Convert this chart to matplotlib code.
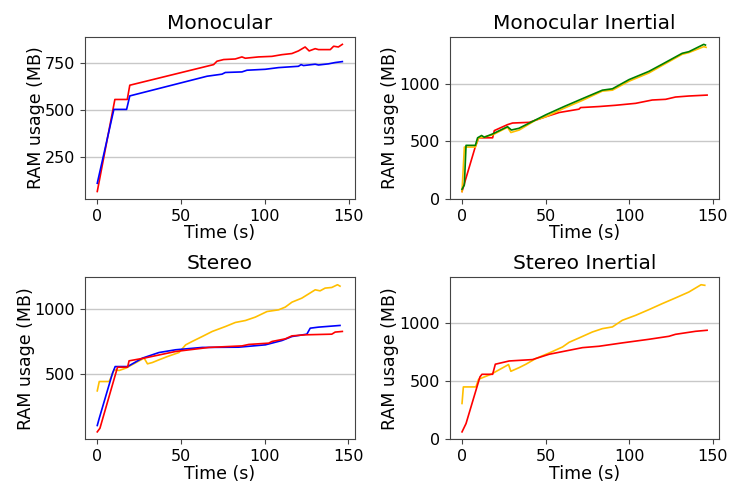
import matplotlib
matplotlib.use('Agg')
import matplotlib.pyplot as plt

# Monocular
mono_red_t = [0, 10.5, 17.9, 19.4, 69.4, 71.4, 75.4, 82.3, 86.3, 88.3, 96.2, 104.2, 110.1, 116.1,
              120, 124, 126.4, 130, 132, 139, 141, 143.8, 146.2]
mono_red_v = [64, 555, 555, 631, 741, 759, 768, 771, 782, 775, 782, 785, 794, 800,
              814, 835, 814, 826, 821, 821, 839, 835, 849]
mono_blue_t = [0, 9.9, 17.5, 19.4, 65.5, 74.4, 76.4, 86.3, 89.3, 100.2, 108.1, 120, 121.6, 123,
               130, 132, 137.9, 141.9, 146.2]
mono_blue_v = [108, 502, 502, 574, 679, 690, 699, 702, 711, 716, 725, 732, 741, 736,
               743, 739, 745, 752, 757]

# Monocular Inertial
mi_green_t = [0, 1.4, 2.4, 8, 9.3, 11.7, 13.3, 18.3, 27.2, 29.5, 34, 50.1, 61, 72, 83.9, 89.9,
              99.8, 111.7, 119.7, 131.6, 135.6, 144.5, 145.5]
mi_green_v = [83, 121, 466, 466, 532, 552, 537, 566, 629, 600, 615, 733, 805, 874, 948, 960,
              1040, 1112, 1175, 1270, 1284, 1348, 1342]
mi_yellow_t = [0, 1.4, 8, 9.9, 12.3, 18.3, 27.2, 29.2, 34.2, 44.1, 50.1, 61, 72, 83.9, 89.9,
               99.8, 111.7, 119.7, 131.6, 135.6, 144.5, 145.9]
mi_yellow_v = [63, 451, 451, 532, 537, 557, 624, 578, 600, 687, 716, 790, 859, 940, 948,
               1026, 1098, 1164, 1261, 1276, 1328, 1322]
mi_red_t = [0, 8, 9.9, 18.3, 19.3, 27.2, 30.2, 40.2, 50.1, 58.1, 69.9, 70.9, 81.9, 91.8, 103.8,
            113.7, 121.7, 127.6, 135.6, 146.5]
mi_red_v = [63, 457, 532, 532, 595, 647, 661, 667, 716, 753, 782, 796, 805, 816, 833,
            862, 868, 888, 897, 905]

# Stereo
st_yellow_t = [0, 1.2, 7.1, 10.1, 13.1, 17.1, 28, 30, 32.9, 36.9, 41.9, 48.8, 52.8, 56.7, 62.7,
               68.7, 76.6, 82.5, 88.5, 94.4, 101.4, 108.3, 112.3, 116.3, 122.2, 130.2, 133.1,
               136.1, 140.1, 143.5, 145]
st_yellow_v = [369, 441, 441, 531, 526, 544, 621, 577, 587, 608, 633, 664, 723, 749, 787,
               826, 864, 895, 910, 936, 979, 992, 1013, 1051, 1082, 1146, 1138,
               1159, 1164, 1185, 1174]
st_blue_t = [0, 1.2, 9.1, 10.7, 18.1, 27, 36.9, 46.8, 62.7, 84.5, 100.4, 110.3, 116.3, 125.2,
             127.2, 132.1, 145]
st_blue_v = [103, 159, 505, 556, 556, 621, 664, 685, 703, 705, 723, 756, 787, 805,
             851, 859, 872]
st_red_t = [0, 1.6, 12.1, 18.1, 19, 28, 46.8, 66.7, 86.5, 90.5, 102.4, 104.4, 112.3, 116.3,
            124.2, 140.1, 142.1, 146.4]
st_red_v = [54, 82, 551, 551, 600, 621, 672, 703, 715, 726, 736, 749, 769, 792,
            800, 805, 821, 826]

# Stereo Inertial
si_yellow_t = [0, 0.8, 8.3, 9.9, 13.3, 17.3, 27.8, 29.2, 34.2, 38.2, 44.1, 52.1, 60.1, 64, 70,
               77.9, 83.9, 89.9, 95.8, 103.8, 111.7, 119.7, 127.6, 135.6, 142.9, 145.1]
si_yellow_v = [305, 448, 448, 514, 534, 557, 641, 583, 615, 644, 693, 741, 793, 833, 871,
               922, 951, 966, 1023, 1066, 1115, 1167, 1216, 1267, 1330, 1325]
si_red_t = [0, 2.4, 10.7, 11.9, 18.3, 19.9, 28.2, 42.1, 52.1, 72, 81.9, 95.8, 111.7, 123.7,
            127.6, 139.6, 146.5]
si_red_v = [60, 132, 534, 557, 557, 644, 672, 684, 730, 787, 799, 828, 859, 885,
            902, 928, 937]

YELLOW = '#ffbf00'

panels = [
    ('Monocular', [(mono_red_t, mono_red_v, 'red'), (mono_blue_t, mono_blue_v, 'blue')],
     [250, 500, 750]),
    ('Monocular Inertial', [(mi_red_t, mi_red_v, 'red'), (mi_yellow_t, mi_yellow_v, YELLOW),
                            (mi_green_t, mi_green_v, 'green')], [0, 500, 1000]),
    ('Stereo', [(st_yellow_t, st_yellow_v, YELLOW), (st_blue_t, st_blue_v, 'blue'),
                (st_red_t, st_red_v, 'red')], [500, 1000]),
    ('Stereo Inertial', [(si_yellow_t, si_yellow_v, YELLOW), (si_red_t, si_red_v, 'red')],
     [0, 500, 1000]),
]

fig, axes = plt.subplots(2, 2, figsize=(7.47, 4.98), dpi=100)
plt.subplots_adjust(left=0.1138, right=0.963, bottom=0.118, top=0.9257,
                    wspace=0.353, hspace=0.485)

for ax, (title, series, yticks) in zip(axes.flat, panels):
    for t, v, c in series:
        ax.plot(t, v, color=c, linewidth=1.2)
    ax.set_title(title, fontsize=14.5)
    ax.set_xlabel('Time (s)', fontsize=12.5, labelpad=0.5)
    ax.set_ylabel('RAM usage (MB)', fontsize=12.5, labelpad=0)
    ax.set_yticks(yticks)
    ax.set_xticks([0, 50, 100, 150])
    ax.tick_params(labelsize=11.5, color='#444444')
    ax.grid(axis='y', color='#c8c8c8', linewidth=1.0)
    ax.set_axisbelow(True)
    for s in ax.spines.values():
        s.set_color('#444444')

plt.savefig('out.png', dpi=100)
